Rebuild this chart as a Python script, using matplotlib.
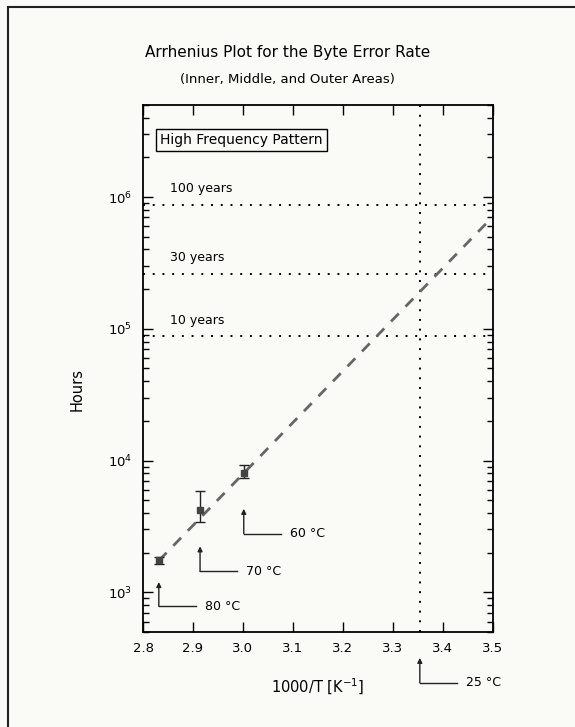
import numpy as np
import matplotlib
matplotlib.use("Agg")
import matplotlib.pyplot as plt
from matplotlib.lines import Line2D

# measured points (1000/T, hours) with error bar limits
temps_c = [80, 70, 60]
inv_t = [1000 / (t + 273.15) for t in temps_c]
hours = [1750, 4200, 8100]
hours_lo = [1650, 3400, 7400]
hours_hi = [1850, 5900, 9200]

# Arrhenius fit: log10(hours) = fit_a + fit_b * (1000/T)
fit_a = -7.82
fit_b = 3.906
fit_x = [1000 / (80 + 273.15), 3.5]

# lifetime reference lines
life_labels = ["100 years", "30 years", "10 years"]
life_hours = [100 * 8760, 30 * 8760, 10 * 8760]

# use temperature
use_temp_c = 25
use_inv_t = 1000 / (use_temp_c + 273.15)

# temperature callouts: (label, x, arrow tip hours, corner hours)
callouts = [
    ("80 °C", inv_t[0], 1197, 783),
    ("70 °C", inv_t[1], 2234, 1440),
    ("60 °C", inv_t[2], 4306, 2786),
    ("25 °C", use_inv_t, 318, 206),
]

bg = "#fafaf7"
fig = plt.figure(figsize=(5.75, 7.27), dpi=100, facecolor=bg)
ax = fig.add_axes([0.2487, 0.1307, 0.6083, 0.7249], facecolor=bg)

ax.set_xlim(2.8, 3.5)
ax.set_ylim(5e2, 5e6)
ax.set_yscale("log")

# fit line
fx = np.array(fit_x)
ax.plot(fx, 10 ** (fit_a + fit_b * fx), color="#666666", lw=2,
        dashes=(4, 3.5), zorder=2)

# data points
yerr = [np.array(hours) - np.array(hours_lo), np.array(hours_hi) - np.array(hours)]
ax.errorbar(inv_t, hours, yerr=yerr, fmt="s", color="#444444", ms=5,
            ecolor="#222222", elinewidth=1, capsize=3.5, capthick=1, zorder=3)

# lifetime lines
for lab, h in zip(life_labels, life_hours):
    ax.axhline(h, color="black", lw=1.4, linestyle=(0, (1, 4)), zorder=1)
    ax.annotate(lab, (2.855, h), xytext=(0, 7), textcoords="offset points",
                fontsize=9, ha="left", va="bottom")
ax.axvline(use_inv_t, color="black", lw=1.4, linestyle=(0, (1, 4)), zorder=1)

# temperature callouts
for lab, x, tip, corner in callouts:
    ax.annotate("", xy=(x, tip), xytext=(x, corner), annotation_clip=False,
                arrowprops=dict(arrowstyle="-|>", color="#222222", lw=1,
                                mutation_scale=7, shrinkA=0, shrinkB=0))
    ax.add_line(Line2D([x, x + 0.074], [corner, corner], color="#222222",
                       lw=1, clip_on=False))
    ax.text(x + 0.092, corner, lab, fontsize=9, va="center", ha="left",
            clip_on=False)

ax.text(0.05, 0.947, "High Frequency Pattern", transform=ax.transAxes,
        fontsize=10, ha="left", va="top",
        bbox=dict(boxstyle="square,pad=0.3", fc=bg, ec="black", lw=1))

ax.set_xticks(np.arange(2.8, 3.51, 0.1))
ax.set_xticklabels(["%.1f" % v for v in np.arange(2.8, 3.51, 0.1)])
ax.tick_params(axis="both", which="both", direction="in", top=True,
               right=True, labelsize=9.5)
ax.tick_params(axis="both", which="major", length=7, width=1)
ax.tick_params(axis="y", which="minor", length=4, width=1)
ax.tick_params(axis="x", pad=7)
ax.tick_params(axis="y", pad=8)
for s in ax.spines.values():
    s.set_linewidth(1.3)

ax.set_xlabel("1000/T [K$^{-1}$]", fontsize=10.5)
ax.xaxis.set_label_coords(0.5, -0.085)
ax.set_ylabel("Hours", fontsize=10.5)
ax.yaxis.set_label_coords(-0.166, 0.46)

fig.text(0.5, 0.928, "Arrhenius Plot for the Byte Error Rate", fontsize=11,
         ha="center", va="center")
fig.text(0.5, 0.89, "(Inner, Middle, and Outer Areas)", fontsize=9.5,
         ha="center", va="center")

# page frame
fig.add_artist(Line2D([0.014, 1.0], [0.99, 0.99], transform=fig.transFigure,
                      color="#222222", lw=1.5))
fig.add_artist(Line2D([0.014, 0.014], [0.0, 0.99], transform=fig.transFigure,
                      color="#222222", lw=1.5))

fig.savefig("out.png", dpi=100, facecolor=bg)
